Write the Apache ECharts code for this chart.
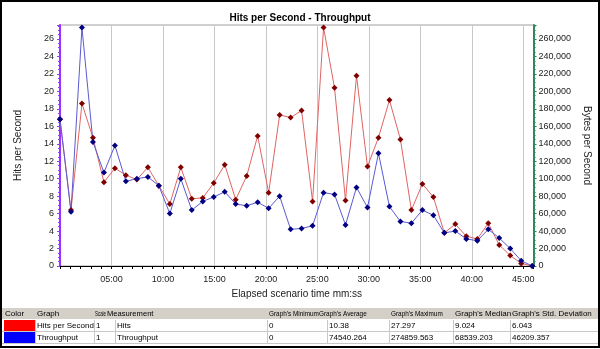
<!DOCTYPE html>
<html>
<head>
<meta charset="utf-8">
<script src="https://cdn.jsdelivr.net/npm/echarts@6/dist/echarts.min.js"></script>
<style>
html,body{margin:0;padding:0;background:#fff;}
#c{width:600px;height:349px;}
</style>
</head>
<body>
<div id="c"></div>
<script>
// Elapsed time of each sample, seconds
var elapsedSec = [0,64,128,192,256,320,384,448,512,576,640,704,768,832,896,960,1024,1088,1152,1216,1280,1344,1408,1472,1536,1600,1664,1728,1792,1856,1920,1984,2048,2112,2176,2240,2304,2368,2432,2496,2560,2624,2688,2752];
// Hits per Second (left axis, red)
var hitsPerSecond = [16.8,6.4,18.6,14.7,9.6,11.2,10.4,9.9,11.3,9.2,7.1,11.3,7.7,7.8,9.5,11.6,7.6,10.3,14.9,8.4,17.3,17.0,17.8,7.4,27.3,20.4,7.5,21.8,11.4,14.7,19.0,14.5,6.4,9.4,7.9,3.8,4.8,3.4,3.1,4.9,2.4,1.2,0.3,0];
// Throughput, bytes per second (right axis, blue)
var throughputBytes = [168000,62000,273000,142000,107000,138000,97000,100000,102000,92000,60000,100000,64000,74000,79000,85000,71000,69000,73000,66000,80000,42000,43000,46000,84000,82000,47000,90000,67000,129000,68000,51000,49000,64000,58000,38000,40000,31000,29000,42000,32000,20000,6000,0];
// Legend table
var tableHeaders = ["Color","Graph","Scale","Measurement","Graph's Minimum","Graph's Average","Graph's Maximum","Graph's Median","Graph's Std. Deviation"];
var tableRows = [
  ["Hits per Second","1","Hits","0","10.38","27.297","9.024","6.043"],
  ["Throughput","1","Throughput","0","74540.264","274859.563","68539.203","46209.357"]
];
var rowColors = ["#ff0000","#0000ff"];

var chart = echarts.init(document.getElementById('c'), null, {renderer:'canvas'});

function pair(xs, ys){ return xs.map(function(x,i){ return [x, ys[i]]; }); }
function mmss(v){ var m=Math.floor(v/60), s=Math.round(v%60); return (m<10?'0':'')+m+':'+(s<10?'0':'')+s; }
function commas(v){ return String(v).replace(/\B(?=(\d{3})+(?!\d))/g, ','); }

var FF = 'Liberation Sans, Arial, sans-serif';
var g = [];
// outer frame
g.push({type:'rect', shape:{x:1,y:1,width:598,height:346}, style:{fill:'none', stroke:'#000', lineWidth:2}, z:10});
// table header
g.push({type:'rect', shape:{x:2,y:308,width:596,height:11}, style:{fill:'#d4d0c8'}});
var hx = [5,37,95,107,269,319,391,455,512];
var hScale = [1,1,0.55,0.95,0.8,0.8,0.8,1,1];
tableHeaders.forEach(function(h,i){
  g.push({type:'text', x:hx[i], y:313.5, scaleX:hScale[i],
    style:{text:h, x:0, y:0, fill:'#000', font:'8px '+FF, verticalAlign:'middle'}});
});
var vx = [37,96,117,269,329,391,455,512];
var divX = [35,94,115,267,327,389,453,510];
tableRows.forEach(function(r,ri){
  var yTop = 320 + ri*12;
  g.push({type:'rect', shape:{x:4,y:yTop,width:31,height:11}, style:{fill:rowColors[ri]}});
  r.forEach(function(v,ci){
    g.push({type:'text', style:{text:v, x:vx[ci], y:yTop+6, fill:'#000', font:'8px '+FF, verticalAlign:'middle'}});
  });
  g.push({type:'line', shape:{x1:2,y1:yTop+11.5,x2:598,y2:yTop+11.5}, style:{stroke:'#c8c8c8', lineWidth:1}});
  divX.forEach(function(dx){
    g.push({type:'line', shape:{x1:dx+0.5,y1:yTop,x2:dx+0.5,y2:yTop+11}, style:{stroke:'#c8c8c8', lineWidth:1}});
  });
});

chart.setOption({
  animation:false,
  backgroundColor:'#fff',
  title:{text:'Hits per Second - Throughput', left:'center', top:8,
    textStyle:{fontSize:10, fontWeight:'bold', color:'#000', fontFamily:FF}},
  grid:{left:60, right:58, top:25, bottom:83, show:true, borderColor:'#a0a0a0', borderWidth:1, backgroundColor:'#fff'},
  xAxis:{
    type:'value', min:0, max:2760, interval:300,
    axisLine:{show:true, lineStyle:{color:'#000', width:1}},
    axisTick:{show:true, length:3, lineStyle:{color:'#000'}},
    minorTick:{show:true, splitNumber:5, length:3, lineStyle:{color:'#000'}},
    axisLabel:{fontSize:9, color:'#222', margin:9, fontFamily:FF, showMaxLabel:false,
      formatter:function(v){ return v===0 ? '' : mmss(v); }},
    splitLine:{show:true, lineStyle:{color:'#c8c8c8', width:1}},
    name:'Elapsed scenario time mm:ss', nameLocation:'middle', nameGap:21,
    nameTextStyle:{fontSize:10, color:'#222', fontFamily:FF}
  },
  yAxis:[{
    type:'value', min:0, max:27.6, interval:2, position:'left',
    axisLine:{show:true, lineStyle:{color:'#9933ff', width:2}},
    axisTick:{show:true, length:3, lineStyle:{color:'#9933ff'}},
    minorTick:{show:true, splitNumber:4, length:2, lineStyle:{color:'#9933ff'}},
    axisLabel:{fontSize:9, color:'#222', margin:6, fontFamily:FF, showMaxLabel:false},
    splitLine:{show:false},
    name:'Hits per Second', nameLocation:'middle', nameGap:37,
    nameTextStyle:{fontSize:10, color:'#222', fontFamily:FF}
  },{
    type:'value', min:0, max:276000, interval:20000, position:'right',
    axisLine:{show:true, lineStyle:{color:'#2e8b57', width:2}},
    axisTick:{show:true, length:3, lineStyle:{color:'#2e8b57'}},
    minorTick:{show:true, splitNumber:4, length:2, lineStyle:{color:'#2e8b57'}},
    axisLabel:{fontSize:9, color:'#222', margin:5, fontFamily:FF, showMaxLabel:false,
      formatter:function(v){ return commas(v); }},
    splitLine:{show:false},
    name:'Bytes per Second', nameLocation:'middle', nameGap:35, nameRotate:-90,
    nameTextStyle:{fontSize:10, color:'#222', fontFamily:FF}
  }],
  series:[{
    name:'Hits per Second', type:'line', yAxisIndex:0, data:pair(elapsedSec, hitsPerSecond),
    symbol:'diamond', symbolSize:6, showAllSymbol:true,
    lineStyle:{color:'#e06464', width:1}, itemStyle:{color:'#800000'}
  },{
    name:'Throughput', type:'line', yAxisIndex:1, data:pair(elapsedSec, throughputBytes),
    symbol:'diamond', symbolSize:6, showAllSymbol:true,
    lineStyle:{color:'#5a5ad2', width:1}, itemStyle:{color:'#000080'}
  }],
  graphic:g
});
</script>
</body>
</html>
